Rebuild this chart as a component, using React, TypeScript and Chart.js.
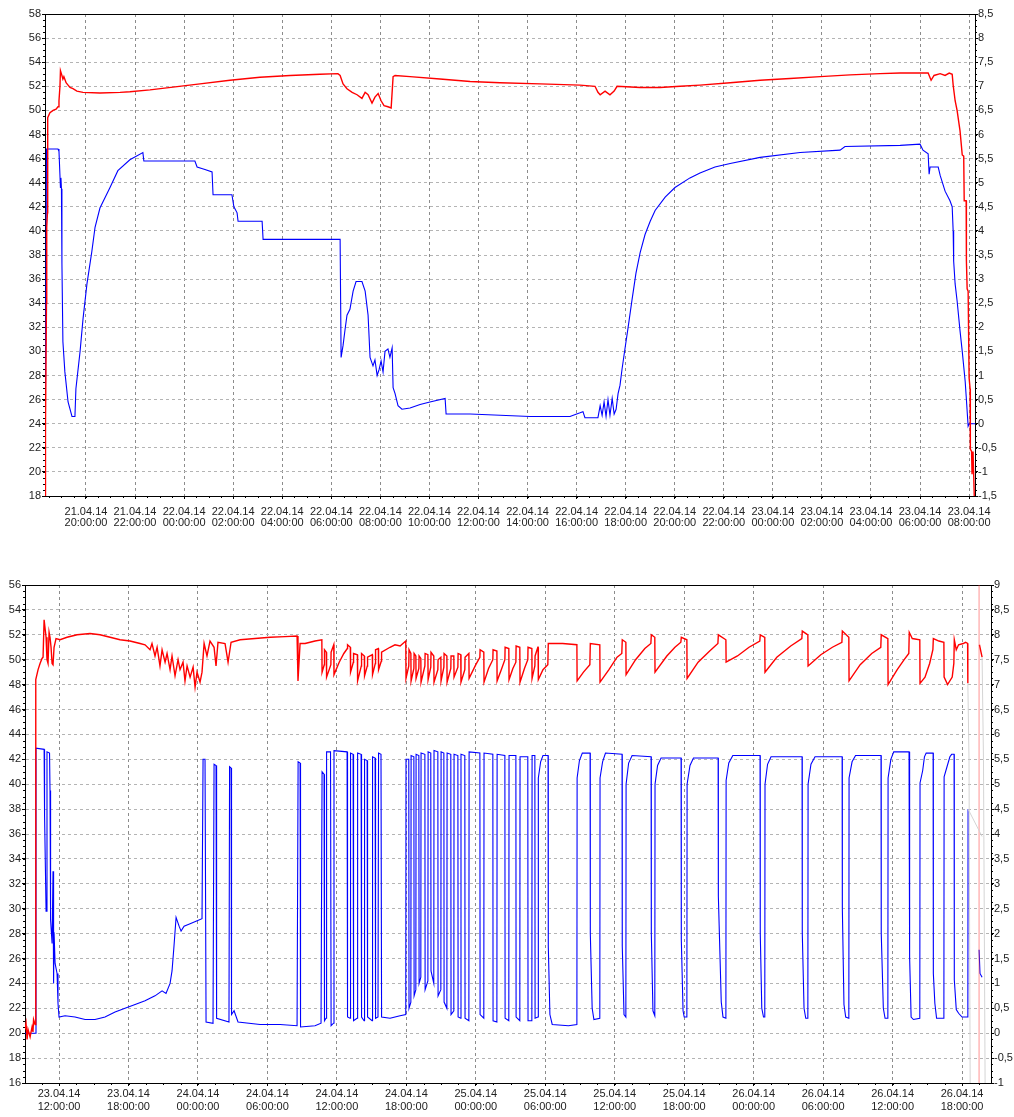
import React, { useEffect, useRef } from 'react';
import { Chart, registerables } from 'chart.js';

Chart.register(...registerables);

// ---------- TOP PANEL (time = hours since 21.04.14 00:00) ----------
const topTimeRange: [number, number] = [18.33, 56.24];
const topTicks = [20, 22, 24, 26, 28, 30, 32, 34, 36, 38, 40, 42, 44, 46, 48, 50, 52, 54, 56];
const topLeftRange: [number, number] = [18, 58];
const topRightRange: [number, number] = [-1.5, 8.5];

const topRed: [number, number][] = [
  [18.34, 18], [18.35, 24], [18.39, 34], [18.40, 40.3], [18.43, 41.5], [18.44, 49.4], [18.53, 49.8], [18.66, 50],
  [18.78, 50.1], [18.86, 50.3], [18.90, 50.8], [18.94, 52], [18.96, 53.3], [19.02, 52.9], [19.06, 52.6], [19.10, 52.8],
  [19.19, 52.3], [19.27, 52.1], [19.35, 51.9], [19.47, 51.8], [19.63, 51.6], [19.88, 51.5], [20.57, 51.45], [21.39, 51.5],
  [21.79, 51.55], [22.61, 51.7], [23.63, 51.95], [24.65, 52.2], [25.87, 52.5], [27.09, 52.75], [28.32, 52.9], [29.54, 53],
  [30.27, 53.05], [30.36, 52.9], [30.48, 52.2], [30.64, 51.8], [30.85, 51.5], [31.05, 51.3], [31.25, 51], [31.38, 51.5],
  [31.50, 51.3], [31.66, 50.6], [31.78, 51.1], [31.91, 51.4], [32.03, 50.8], [32.15, 50.4], [32.31, 50.3], [32.44, 50.2],
  [32.52, 52.8], [32.60, 52.9], [33.21, 52.8], [34.43, 52.6], [35.66, 52.4], [36.88, 52.3], [38.51, 52.2], [40.14, 52.1],
  [40.75, 52], [40.87, 51.5], [40.96, 51.3], [41.16, 51.6], [41.36, 51.3], [41.53, 51.6], [41.65, 52], [42.59, 51.9],
  [43.40, 51.9], [44.22, 52], [45.03, 52.1], [46.26, 52.3], [47.48, 52.5], [48.70, 52.65], [49.93, 52.8], [51.15, 52.95],
  [52.37, 53.05], [53.19, 53.1], [54.33, 53.1], [54.45, 52.5], [54.57, 52.9], [54.82, 53.05], [55.02, 52.9], [55.19, 53.1],
  [55.31, 53], [55.35, 52.1], [55.43, 50.8], [55.51, 50], [55.63, 48.3], [55.72, 46.3], [55.78, 46.2], [55.80, 42.5],
  [55.88, 42.5], [55.89, 37.5], [55.92, 35.2], [55.96, 35], [56.00, 27.8], [56.04, 26.9], [56.05, 21.9], [56.10, 21.7],
  [56.12, 19.8], [56.16, 21.7], [56.21, 18],
];

const topBlue: [number, number][] = [
  [18.35, 26.8], [18.39, 46.8], [18.86, 46.8], [18.90, 46.6], [18.94, 44.6], [18.96, 43.6], [18.98, 44.4], [19.00, 43.5],
  [19.02, 37.3], [19.06, 30.8], [19.14, 28.3], [19.27, 25.8], [19.43, 24.6], [19.55, 24.6], [19.59, 26.9], [19.76, 30],
  [19.88, 32.7], [20.04, 35.6], [20.24, 38.3], [20.37, 40.3], [20.57, 41.9], [20.98, 43.6], [21.30, 45], [21.79, 45.9],
  [22.32, 46.5], [22.36, 45.8], [24.44, 45.8], [24.53, 45.3], [24.85, 45.1], [25.14, 44.9], [25.18, 43], [25.95, 43],
  [26.03, 42], [26.16, 41.5], [26.20, 40.8], [27.18, 40.8], [27.22, 39.3], [30.36, 39.3], [30.40, 29.5], [30.48, 30.5],
  [30.56, 31.8], [30.64, 33], [30.76, 33.5], [30.89, 35], [31.01, 35.8], [31.25, 35.8], [31.38, 35], [31.50, 33],
  [31.58, 29.5], [31.70, 28.8], [31.78, 29.3], [31.87, 28], [31.95, 28.5], [32.03, 29.2], [32.11, 28.3], [32.19, 30],
  [32.31, 30.2], [32.39, 29.5], [32.48, 30.3], [32.52, 27], [32.60, 26.5], [32.72, 25.5], [32.88, 25.2], [33.21, 25.3],
  [33.62, 25.6], [34.02, 25.8], [34.64, 26.1], [34.68, 24.8], [35.66, 24.8], [36.88, 24.7], [38.10, 24.6], [39.73, 24.6],
  [40.14, 24.9], [40.26, 25], [40.34, 24.5], [40.87, 24.5], [40.96, 25.5], [41.04, 24.7], [41.12, 25.8], [41.20, 24.6],
  [41.28, 26], [41.36, 24.7], [41.45, 26.1], [41.53, 24.8], [41.61, 25.2], [41.69, 26.5], [41.77, 27.2], [41.85, 28.5],
  [41.97, 30.2], [42.10, 32], [42.26, 34.3], [42.42, 36.5], [42.59, 38.2], [42.79, 39.7], [43.00, 40.8], [43.20, 41.7],
  [43.61, 42.8], [44.01, 43.6], [44.62, 44.4], [45.03, 44.8], [45.64, 45.3], [46.26, 45.6], [47.48, 46.1], [49.11, 46.5],
  [50.74, 46.7], [50.94, 47], [53.19, 47.1], [54.00, 47.2], [54.12, 46.7], [54.33, 46.4], [54.37, 44.7], [54.41, 45.3],
  [54.74, 45.3], [54.82, 44.6], [55.02, 43.3], [55.22, 42.5], [55.31, 42], [55.35, 40], [55.37, 37.5], [55.43, 35.6],
  [55.51, 34.2], [55.63, 31.7], [55.72, 30], [55.84, 27.5], [55.88, 26.3], [55.96, 23.8], [56.00, 24], [56.24, 24],
];

// ---------- BOTTOM PANEL (time = hours since 23.04.14 00:00) ----------
const botTimeRange: [number, number] = [9.06, 92.5];
const botTicks = [12, 18, 24, 30, 36, 42, 48, 54, 60, 66, 72, 78, 84, 90];
const botLeftRange: [number, number] = [16, 56];
const botRightRange: [number, number] = [-1, 9];
const botMarkerTime = 91.47;

const botRed: [number, number | null][] = [
  [9.06, 20.3], [9.15, 20.8], [9.24, 19.5], [9.32, 20.3], [9.50, 19.7], [9.67, 20.5], [9.75, 20.1], [9.80, 21.1],
  [9.93, 20.7], [9.97, 21.5], [10.01, 48.4], [10.19, 49.2], [10.36, 49.7], [10.53, 50.1], [10.62, 50.2], [10.71, 53.2],
  [10.88, 51.8], [10.96, 50], [11.05, 49.7], [11.14, 52.2], [11.22, 51.8], [11.31, 51], [11.40, 49.7], [11.48, 49.6],
  [11.57, 51], [11.74, 51.7], [12.09, 51.6], [12.69, 51.8], [13.56, 52], [14.68, 52.1], [15.54, 52], [16.41, 51.8],
  [17.27, 51.6], [18.13, 51.5], [19.00, 51.3], [19.43, 51.2], [19.86, 50.8], [20.03, 51.3], [20.29, 50.3], [20.47, 51],
  [20.72, 49.5], [20.90, 50.8], [21.16, 49.8], [21.33, 50.5], [21.59, 49.2], [21.76, 50.3], [22.02, 48.7], [22.28, 50],
  [22.45, 49.2], [22.71, 49.8], [22.88, 48.3], [23.06, 49.5], [23.32, 48.6], [23.58, 49.4], [23.75, 47.8], [23.92, 49],
  [24.18, 48.2], [24.35, 49], [24.53, 51.3], [24.78, 50.3], [25.04, 51.5], [25.39, 51], [25.56, 49.5], [25.73, 51.4],
  [26.34, 51.3], [26.60, 49.8], [26.86, 51.4], [27.64, 51.6], [28.93, 51.7], [30.23, 51.8], [31.52, 51.85], [32.56, 51.9],
  [32.64, 48.3], [32.82, 51.3], [33.25, 51.3], [34.11, 51.5], [34.70, 51.6],
  [34.72, 49], [34.91, 49.6], [34.93, 50.8], [35.09, 50.6], [35.11, 48.6], [35.48, 49.6], [35.50, 50.6], [35.73, 51.2],
  [35.75, 48.8], [36.2, 49.8], [36.6, 50.5], [36.90, 50.9], [36.92, 51.2], [37.16, 51], [37.18, 49], [37.42, 49.8],
  [37.44, 50.5], [37.77, 50.4], [37.79, 48.3], [38.11, 49.5], [38.13, 50.5], [38.37, 50.3], [38.39, 48.7], [38.63, 49.5],
  [38.65, 50.2], [39.06, 50.4], [39.08, 48.8], [39.32, 49.7], [39.34, 50.8], [39.58, 50.9], [39.60, 49.2], [39.84, 49.9],
  [39.86, 50.6], [40.59, 51], [41.02, 51.2], [41.46, 51.1], [41.95, 51.5],
  [41.97, 48.5], [42.21, 49.5], [42.23, 50.8], [42.39, 50.5], [42.41, 48.3], [42.65, 49.3], [42.67, 50.5], [42.82, 50.3],
  [42.84, 48.5], [43.08, 49.3], [43.10, 50.3], [43.25, 50.1], [43.27, 48.2], [43.60, 49.5], [43.62, 50.5], [43.86, 50.4],
  [43.88, 48.4], [44.11, 49.4], [44.13, 50.6], [44.37, 50.3], [44.39, 48.2], [44.72, 49.2], [44.74, 50], [44.98, 50.2],
  [45.00, 48.3], [45.24, 49.4], [45.26, 50.5], [45.50, 50.3], [45.52, 48.2], [45.84, 49.3], [45.86, 50.3], [46.10, 50.3],
  [46.12, 48.6], [46.45, 49.4], [46.47, 50.5], [46.70, 50.4], [46.72, 48.2], [47.05, 49.2], [47.07, 50.2], [47.40, 50.5],
  [47.42, 48.5], [48.0, 49.6], [48.35, 50.2], [48.37, 50.8], [48.69, 50.6], [48.71, 48.2], [49.1, 49.3], [49.47, 50],
  [49.49, 50.8], [49.82, 50.7], [49.84, 48.3], [50.2, 49.2], [50.51, 50], [50.53, 51], [50.85, 50.9], [50.87, 48.4],
  [51.2, 49.3], [51.46, 49.8], [51.48, 51.1], [51.80, 51], [51.82, 48.2], [52.2, 49.3], [52.49, 50], [52.51, 51],
  [52.84, 50.9], [52.86, 48.5], [53.10, 49.5], [53.12, 50.3], [53.36, 51],
  [53.38, 51], [53.40, 48.4], [53.8, 49.2], [54.22, 49.6], [54.26, 51.3], [55.5, 51.3], [56.73, 51.2],
  [56.75, 48.3], [57.3, 49], [57.85, 49.6], [57.89, 51.3], [58.71, 51.2],
  [58.73, 48.2], [59.5, 49.2], [60.2, 50.2], [60.61, 50.5], [60.65, 51.6], [60.96, 51.4],
  [60.98, 48.8], [61.8, 50], [62.6, 50.9], [63.12, 51.3], [63.16, 52], [63.46, 51.8],
  [63.48, 49], [64.5, 50.3], [65.2, 51], [65.71, 51.4], [65.75, 51.8], [66.23, 51.6],
  [66.25, 48.5], [67.2, 49.8], [68.2, 50.7], [68.91, 51.3], [68.95, 52], [69.6, 51.6],
  [69.62, 49.8], [70.6, 50.3], [71.6, 51], [72.53, 51.5], [72.57, 52], [72.96, 51.8],
  [72.98, 49], [74, 50.2], [75.2, 51.1], [76.16, 51.7], [76.2, 52.3], [76.68, 52],
  [76.70, 49.5], [77.8, 50.4], [78.8, 51], [79.62, 51.4], [79.66, 52.3], [80.22, 51.8],
  [80.24, 48.3], [81.2, 49.6], [82.2, 50.5], [82.98, 51], [83.02, 52], [83.59, 51.7],
  [83.61, 48], [84.4, 49.2], [85.0, 50], [85.40, 50.5], [85.44, 52.2], [85.7, 51.7], [86.35, 51.6],
  [86.37, 48.1], [86.8, 48.6], [87.2, 49.7], [87.48, 50.8], [87.52, 51.7], [88.0, 51.5], [88.43, 51.4],
  [88.45, 48.6], [88.75, 48], [89.15, 48.6], [89.29, 49.7], [89.33, 51.6], [89.5, 50.8], [89.7, 51.2], [90.1, 51.3],
  [90.3, 51.4], [90.48, 51.3], [90.50, 48.1], [90.51, null], [91.50, 51.2], [91.73, 50.2],
];

const botBlue: [number, number | null][] = [
  [9.06, 20], [9.97, 20], [10.01, 42.9], [10.71, 42.8], [10.75, 37.5], [10.88, 29.8], [10.96, 42.6], [11.18, 42.5],
  [11.22, 39.5], [11.27, 29.1], [11.40, 27.2], [11.48, 33], [11.53, 24], [11.57, 28.1], [11.66, 25.6], [11.83, 24.8],
  [11.91, 22.4], [12.00, 21.3], [12.52, 21.4], [13.38, 21.3], [14.25, 21.1], [15.11, 21.1], [15.97, 21.3], [16.84, 21.7],
  [17.70, 22], [18.57, 22.3], [19.43, 22.6], [20.29, 23], [20.90, 23.4], [21.24, 23.2], [21.59, 24], [21.76, 25],
  [21.93, 27], [22.11, 29.3], [22.37, 28.6], [22.54, 28.2], [22.80, 28.6], [23.32, 28.8], [23.83, 29], [24.35, 29.2],
  [24.44, 42], [24.61, 42], [24.70, 20.9], [25.30, 20.8], [25.39, 41.6], [25.56, 41.5], [25.61, 21.2], [26.68, 20.9],
  [26.73, 41.4], [26.86, 41.3], [26.90, 21.5], [27.12, 21.8], [27.46, 20.9], [29.36, 20.7], [31.09, 20.7], [32.56, 20.6],
  [32.65, 41.8], [32.82, 41.7], [32.86, 20.5], [34.11, 20.6], [34.63, 20.8],
  [34.72, 41], [34.89, 40.8], [34.93, 21], [35.06, 21.2], [35.11, 42.6], [35.45, 42.6], [35.50, 20.6], [35.71, 20.8],
  [35.75, 42.7], [36.88, 42.6], [36.92, 21.3], [37.14, 21.2], [37.18, 42.5], [37.40, 42.4], [37.44, 21], [37.74, 21.2],
  [37.79, 42.5], [38.09, 42.4], [38.13, 21.3], [38.35, 21], [38.39, 42], [38.61, 41.9], [38.65, 21.3], [39.04, 21],
  [39.08, 42.2], [39.30, 42.1], [39.34, 21.2], [39.55, 21.3], [39.60, 42.5], [39.81, 42.4], [39.86, 21.3],
  [40.59, 21.2], [41.46, 21.4], [41.95, 21.5],
  [41.97, 42], [42.21, 42], [42.23, 22], [42.39, 22.5], [42.41, 42.3], [42.65, 42.2], [42.67, 23], [42.82, 23.5],
  [42.84, 42.4], [43.08, 42.3], [43.10, 24], [43.25, 24.5], [43.27, 42.5], [43.60, 42.4], [43.62, 23.5], [43.86, 24.2],
  [43.88, 42.6], [44.11, 42.5], [44.13, 25], [44.37, 24], [44.39, 42.7], [44.72, 42.6], [44.74, 23], [44.98, 23.5],
  [45.00, 42.6], [45.24, 42.5], [45.26, 22.5], [45.50, 22], [45.52, 42.5], [45.84, 42.4], [45.86, 21.5], [46.10, 21.8],
  [46.12, 42.4], [46.45, 42.3], [46.47, 21.3], [46.70, 21.2], [46.72, 42.4], [47.05, 42.3], [47.07, 21.2], [47.40, 21],
  [47.42, 42.6], [48.35, 42.5], [48.37, 21.5], [48.69, 21.2], [48.71, 42.5], [49.47, 42.4], [49.49, 21], [49.82, 20.9],
  [49.84, 42.4], [50.51, 42.3], [50.53, 21.2], [50.85, 21], [50.87, 42.3], [51.46, 42.3], [51.48, 21.3], [51.80, 21],
  [51.82, 42.2], [52.49, 42.2], [52.51, 21], [52.84, 21], [52.86, 42.3], [53.10, 42.3], [53.12, 21.2], [53.36, 21.3],
  [53.38, 21.3], [53.40, 40.5], [53.6, 41.8], [53.8, 42.3], [54.24, 42.3], [54.26, 27], [54.4, 21.5], [54.6, 20.7],
  [56.0, 20.6], [56.73, 20.7],
  [56.75, 40.5], [56.95, 41.9], [57.2, 42.5], [57.87, 42.5], [57.89, 28], [58.05, 22], [58.2, 21.1], [58.71, 21.2],
  [58.73, 40.5], [58.95, 41.8], [59.2, 42.5], [60.63, 42.4], [60.65, 27], [60.8, 21.5], [60.96, 21.3],
  [60.98, 40], [61.2, 41.7], [61.5, 42.3], [63.14, 42.2], [63.16, 28], [63.3, 21.8], [63.46, 21.4],
  [63.48, 40], [63.7, 41.5], [64.0, 42.1], [65.73, 42.1], [65.75, 27.5], [65.9, 21.8], [66.0, 21.3], [66.23, 21.3],
  [66.25, 40], [66.5, 41.5], [66.8, 42.1], [68.93, 42.1], [68.95, 31], [69.2, 22.5], [69.35, 21.3], [69.6, 21.2],
  [69.62, 40.3], [69.85, 41.7], [70.2, 42.3], [72.55, 42.3], [72.57, 28], [72.7, 22], [72.85, 21.3], [72.96, 21.3],
  [72.98, 40], [73.2, 41.6], [73.5, 42.2], [76.18, 42.2], [76.2, 28], [76.35, 22], [76.5, 21.2], [76.68, 21.2],
  [76.70, 40], [76.95, 41.6], [77.3, 42.2], [79.64, 42.2], [79.66, 30], [79.8, 22.3], [79.95, 21.3], [80.22, 21.2],
  [80.24, 40.5], [80.5, 41.8], [80.8, 42.3], [83.00, 42.3], [83.02, 28], [83.2, 22], [83.35, 21.2], [83.59, 21.2],
  [83.61, 40.5], [83.85, 42], [84.1, 42.6], [85.42, 42.6], [85.44, 29.1], [85.5, 26.1], [85.6, 21.3], [85.8, 21.1], [86.35, 21.2],
  [86.37, 40.1], [86.6, 41.1], [86.75, 42.2], [86.9, 42.5], [87.50, 42.5], [87.52, 24.8], [87.65, 22.4], [87.8, 21.2], [88.43, 21.2],
  [88.45, 40.6], [88.7, 41.4], [88.95, 42.2], [89.1, 42.4], [89.31, 42.4], [89.33, 24.3], [89.5, 21.9], [89.7, 21.6],
  [90.0, 21.3], [90.50, 21.3], [90.52, 38], [90.53, null], [91.47, 26.7], [91.55, 24.8], [91.73, 24.5],
];

const botGhost: [number, number | null][] = [
  [90.50, 48.1], [90.6, 42], [90.7, 16], [90.71, null],
  [91.73, 50.2], [91.85, 42], [91.99, 16], [92.0, null],
  [90.52, 38], [91.73, 35.8],
];

// ---------- rendering helpers ----------
const FONT = "'Liberation Sans Narrow', 'Liberation Sans', Arial, sans-serif";
const pad2 = (n: number) => String(n).padStart(2, '0');

type PanelCfg = {
  top: number;
  canvasH: number;
  padTop: number;
  leftW: number;
  rightW: number;
  xH: number;
  xPad: number;
  xLine: number;
  baseDay: number;
  timeRange: [number, number];
  ticks: number[];
  leftRange: [number, number];
  rightRange: [number, number];
  minorX: number;
  datasets: any[];
};

const toXY = (d: [number, number | null][]) => d.map(([x, y]) => ({ x, y }));

const lineDs = (d: [number, number | null][], color: string, width = 1) => ({
  data: toXY(d),
  borderColor: color,
  borderWidth: width,
  pointRadius: 0,
  fill: false,
  tension: 0,
  spanGaps: false,
  yAxisID: 'y',
});

const framePlugin = {
  id: 'frame',
  beforeDatasetsDraw(chart: any) {
    const { ctx, chartArea: a } = chart;
    ctx.save();
    ctx.strokeStyle = '#000';
    ctx.lineWidth = 1;
    ctx.strokeRect(Math.round(a.left) + 0.5, Math.round(a.top) + 0.5, Math.round(a.right - a.left), Math.round(a.bottom - a.top));
    ctx.restore();
  },
};

const minorPlugin = (minorX: number) => ({
  id: 'minorTicks',
  afterDraw(chart: any) {
    const { ctx, chartArea: a, scales } = chart;
    const { x, y, y1 } = scales;
    ctx.save();
    ctx.strokeStyle = '#000';
    ctx.lineWidth = 1;
    ctx.beginPath();
    const i0 = Math.ceil(x.min / minorX);
    const i1 = Math.floor(x.max / minorX);
    for (let i = i0; i <= i1; i++) {
      const px = Math.round(x.getPixelForValue(i * minorX)) + 0.5;
      ctx.moveTo(px, Math.round(a.bottom));
      ctx.lineTo(px, Math.round(a.bottom) + 2);
    }
    const yStep = 0.5;
    for (let i = Math.ceil(y.min / yStep); i <= Math.floor(y.max / yStep); i++) {
      const py = Math.round(y.getPixelForValue(i * yStep)) + 0.5;
      ctx.moveTo(Math.round(a.left) - 2, py);
      ctx.lineTo(Math.round(a.left), py);
    }
    const y1Step = 0.125;
    for (let i = Math.ceil(y1.min / y1Step); i <= Math.floor(y1.max / y1Step); i++) {
      const py = Math.round(y1.getPixelForValue(i * y1Step)) + 0.5;
      ctx.moveTo(Math.round(a.right), py);
      ctx.lineTo(Math.round(a.right) + 2, py);
    }
    ctx.stroke();
    ctx.restore();
  },
});

function buildConfig(cfg: PanelCfg): any {
  const tickFont = { family: FONT, size: 11 };
  return {
    type: 'line',
    data: { datasets: cfg.datasets },
    options: {
      responsive: false,
      animation: false,
      devicePixelRatio: 1,
      events: [],
      layout: { padding: { top: cfg.padTop, left: 0, right: 0, bottom: 0 } },
      plugins: { legend: { display: false }, tooltip: { enabled: false } },
      scales: {
        x: {
          type: 'linear',
          position: 'bottom',
          min: cfg.timeRange[0],
          max: cfg.timeRange[1],
          afterBuildTicks: (s: any) => {
            s.ticks = cfg.ticks.map((v) => ({ value: v }));
          },
          afterFit: (s: any) => {
            s.height = cfg.xH;
          },
          grid: { color: '#8c8c8c', lineWidth: 1, tickLength: 3, tickColor: '#000' },
          border: { display: true, color: '#000', width: 1, dash: [3, 3] },
          ticks: {
            autoSkip: false,
            maxRotation: 0,
            minRotation: 0,
            padding: cfg.xPad,
            color: '#222',
            font: { ...tickFont, lineHeight: cfg.xLine },
            callback: (v: number) => {
              const day = cfg.baseDay + Math.floor(v / 24);
              const hr = Math.round(v - Math.floor(v / 24) * 24);
              return [`${pad2(day)}.04.14`, `${pad2(hr)}:00:00`];
            },
          },
        },
        y: {
          type: 'linear',
          position: 'left',
          min: cfg.leftRange[0],
          max: cfg.leftRange[1],
          afterFit: (s: any) => {
            s.width = cfg.leftW;
          },
          grid: { color: '#b4b4b4', lineWidth: 1, tickLength: 3, tickColor: '#000' },
          border: { display: true, color: '#000', width: 1, dash: [3, 3] },
          ticks: { stepSize: 2, padding: 1, color: '#222', font: tickFont },
        },
        y1: {
          type: 'linear',
          position: 'right',
          display: true,
          min: cfg.rightRange[0],
          max: cfg.rightRange[1],
          afterFit: (s: any) => {
            s.width = cfg.rightW;
          },
          grid: { drawOnChartArea: false, tickLength: 3, tickColor: '#000' },
          border: { display: true, color: '#000', width: 1 },
          ticks: {
            stepSize: 0.5,
            padding: 0,
            color: '#222',
            font: tickFont,
            callback: (v: number) => String(Math.round(v * 10) / 10).replace('.', ','),
          },
        },
      },
    },
    plugins: [framePlugin, minorPlugin(cfg.minorX)],
  };
}

function Panel({ cfg }: { cfg: PanelCfg }) {
  const ref = useRef<HTMLCanvasElement>(null);
  useEffect(() => {
    const chart = new Chart(ref.current as HTMLCanvasElement, buildConfig(cfg));
    return () => chart.destroy();
  }, []);
  return (
    <canvas
      ref={ref}
      width={1014}
      height={cfg.canvasH}
      style={{ position: 'absolute', left: 0, top: cfg.top, width: 1014, height: cfg.canvasH }}
    />
  );
}

const topCfg: PanelCfg = {
  top: 0,
  canvasH: 545,
  padTop: 14,
  leftW: 45,
  rightW: 39,
  xH: 545 - 496,
  xPad: 7,
  xLine: 1.05,
  baseDay: 21,
  timeRange: topTimeRange,
  ticks: topTicks,
  leftRange: topLeftRange,
  rightRange: topRightRange,
  minorX: 0.5,
  datasets: [lineDs(topRed, '#ff0000', 1.4), lineDs(topBlue, '#0000ff', 1.1)],
};

const botCfg: PanelCfg = {
  top: 560,
  canvasH: 557,
  padTop: 25,
  leftW: 25,
  rightW: 1014 - 991,
  xH: 557 - 523,
  xPad: 2,
  xLine: 1.12,
  baseDay: 23,
  timeRange: botTimeRange,
  ticks: botTicks,
  leftRange: botLeftRange,
  rightRange: botRightRange,
  minorX: 1.5,
  datasets: [
    lineDs(botGhost, '#d4d4d4'),
    lineDs([[botMarkerTime, botLeftRange[0]], [botMarkerTime, botLeftRange[1]]], 'rgba(255,60,60,0.55)'),
    lineDs(botRed, '#ff0000', 1.4),
    lineDs(botBlue, '#0000ff', 1.1),
  ],
};

export default function App() {
  return (
    <div style={{ position: 'absolute', left: 0, top: 0, width: 1014, height: 1117, background: '#fff' }}>
      <Panel cfg={topCfg} />
      <Panel cfg={botCfg} />
    </div>
  );
}
